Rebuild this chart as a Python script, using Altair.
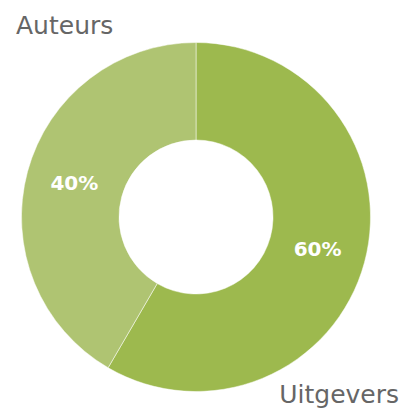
import altair as alt
import pandas as pd

categories = ["Uitgevers", "Auteurs"]
values = [58.4, 41.6]
labels = ["60%", "40%"]
colors = ["#9DB94E", "#AFC472"]

df = pd.DataFrame({"cat": categories, "val": values, "label": labels, "ord": [0, 1]})

cx, cy = 188, 209

base = alt.Chart(df).encode(
    theta=alt.Theta("val:Q", stack=True),
    order=alt.Order("ord:Q"),
)

arcs = base.mark_arc(outerRadius=174.5, innerRadius=77, stroke="white", strokeWidth=0.5).encode(
    color=alt.Color("cat:N", scale=alt.Scale(domain=categories, range=colors), legend=None),
    x=alt.value(cx), y=alt.value(cy),
)

text = base.mark_text(radius=126, font="DejaVu Sans", fontSize=20, fontWeight="bold",
                      color="white").encode(
    text="label:N",
    x=alt.value(cx), y=alt.value(cy),
)

tdf = pd.DataFrame({"t": ["Auteurs"]})
t1 = alt.Chart(tdf).mark_text(font="DejaVu Sans", fontSize=25, color="#666666", align="left",
                              baseline="alphabetic").encode(
    text="t:N", x=alt.value(8), y=alt.value(26))
tdf2 = pd.DataFrame({"t": ["Uitgevers"]})
t2 = alt.Chart(tdf2).mark_text(font="DejaVu Sans", fontSize=25, color="#666666", align="right",
                               baseline="alphabetic").encode(
    text="t:N", x=alt.value(391), y=alt.value(395))

chart = alt.layer(arcs, text, t1, t2).properties(
    width=395, height=401, autosize=alt.AutoSizeParams(type="none"), padding=0
).configure_view(stroke=None)

chart.save("out.html", embed_options={"renderer": "svg", "actions": False})
